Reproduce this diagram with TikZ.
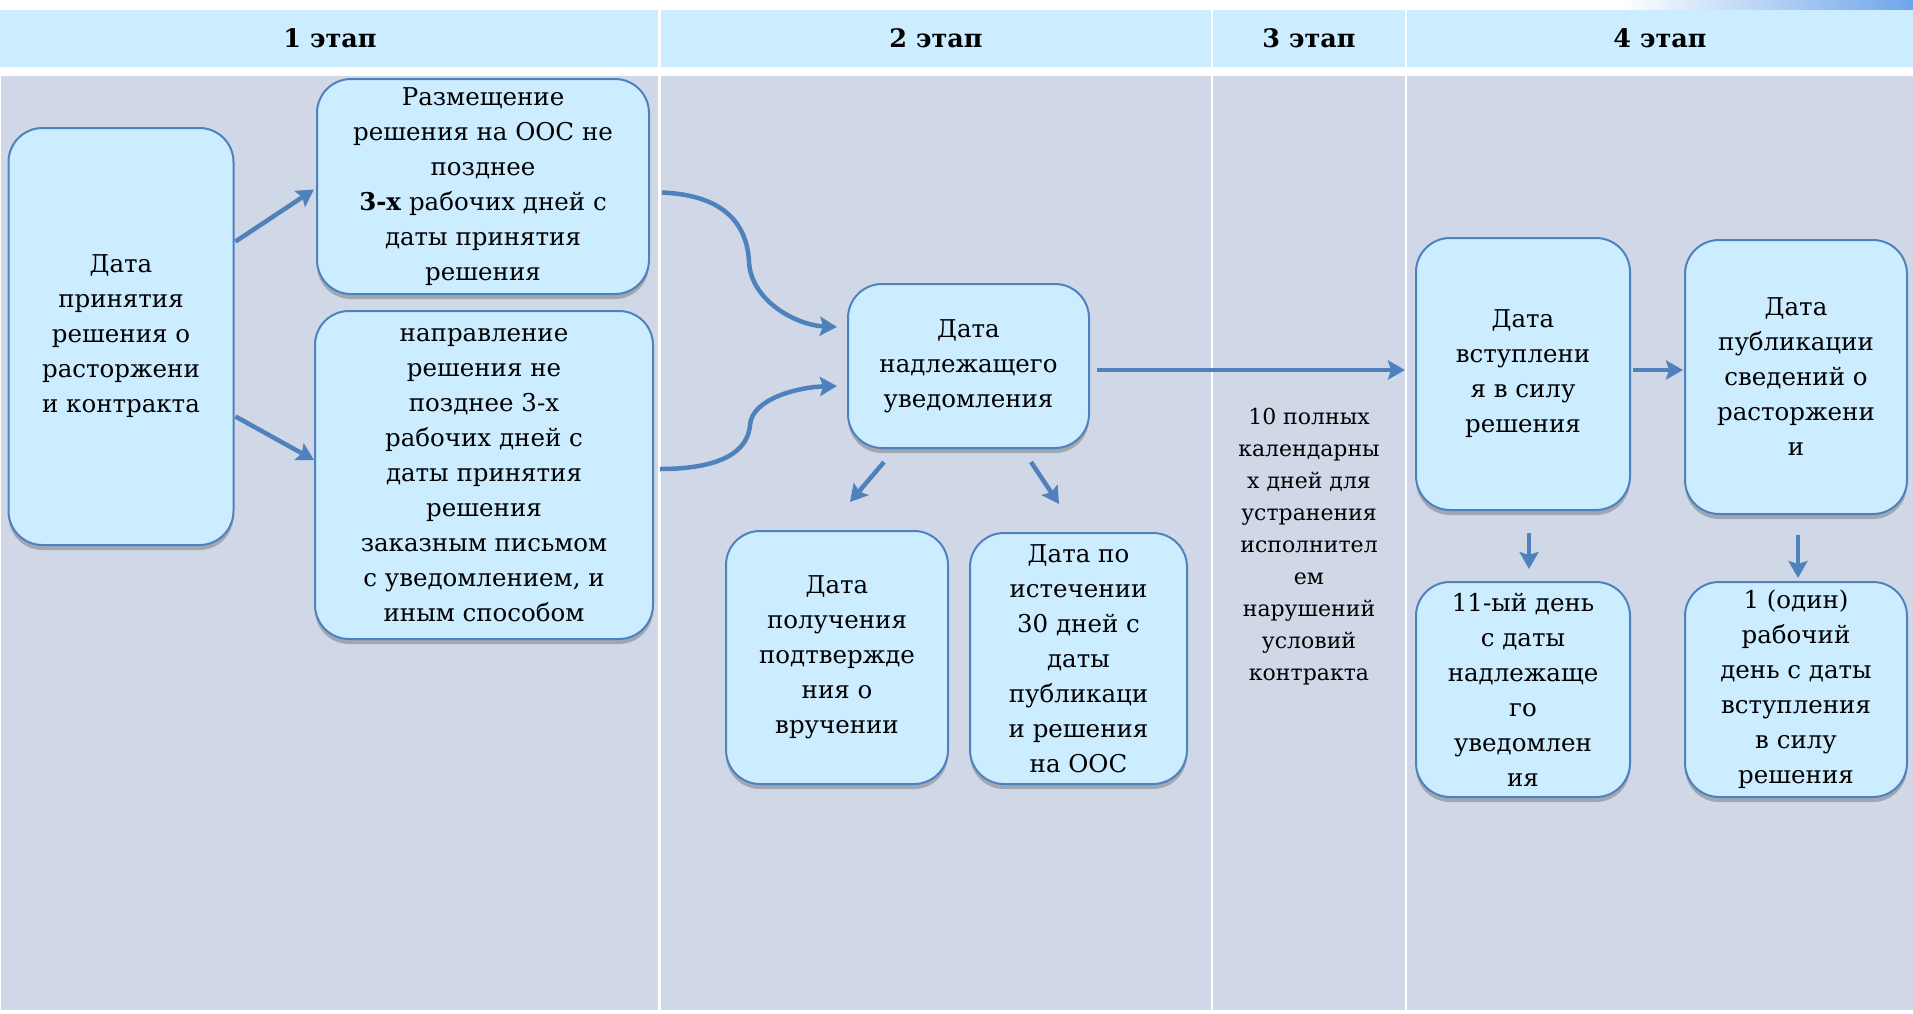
\documentclass[tikz,border=0pt]{standalone}
\usepackage{fontspec}
\setmainfont{DejaVu Serif}
\usetikzlibrary{arrows.meta,shadows,calc}
\definecolor{bodybg}{RGB}{208,216,232}
\definecolor{headbg}{RGB}{204,236,255}
\definecolor{boxfill}{RGB}{204,236,255}
\definecolor{boxline}{RGB}{79,129,189}
\definecolor{arrowc}{RGB}{79,129,189}
\definecolor{decoblue}{RGB}{110,165,235}
\begin{document}
\begin{tikzpicture}[x=1pt,y=-1pt,
  box/.style={draw=boxline, line width=2pt, fill=boxfill, rounded corners=34pt,
    align=center, inner sep=0pt, text=black, font=\fontsize{24.5}{35}\selectfont,
    drop shadow={shadow xshift=0pt, shadow yshift=-5pt, opacity=0.35, fill=black!70}},
  headtext/.style={font=\fontsize{25.5}{30}\selectfont\bfseries, text=black},
  plaintext/.style={align=center, text=black, font=\fontsize{22}{32}\selectfont},
  arr/.style={draw=arrowc, line width=4.5pt, -{Stealth[inset=3pt,length=17pt,width=19pt]}},
  divider/.style={draw=white, line width=2.5pt}
]
\useasboundingbox (0,0) rectangle (1913,1013);
\fill[white] (0,0) rectangle (1913,1013);
% top-right decoration
\shade[left color=white, right color=decoblue] (1620,0) rectangle (1913,9);
% header and body bands
\fill[headbg] (0,10) rectangle (1913,67);
\fill[bodybg] (1,76) rectangle (1913,1010);
% column dividers
\draw[divider] (659.5,10) -- (659.5,1013);
\draw[divider] (1212,10) -- (1212,1013);
\draw[divider] (1406,10) -- (1406,1013);

% header labels
\node[headtext] (h1) at (330,38) {1 этап};
\node[headtext] (h2) at (936,38) {2 этап};
\node[headtext] (h3) at (1309,38) {3 этап};
\node[headtext] (h4) at (1660,38) {4 этап};

% boxes
\node[box, minimum width=225pt, minimum height=417pt] (A) at (121,336.5)
  {Дата\\принятия\\решения о\\расторжени\\и контракта};
\node[box, minimum width=332pt, minimum height=215pt] (B) at (483,186.5)
  {Размещение\\решения на ООС не\\позднее\\\textbf{3-х} рабочих дней с\\даты принятия\\решения};
\node[box, minimum width=338pt, minimum height=328pt] (C) at (484,475)
  {направление\\решения не\\позднее 3-х\\рабочих дней с\\даты принятия\\решения\\заказным письмом\\с уведомлением, и\\иным способом};
\node[box, minimum width=241pt, minimum height=164pt] (D) at (968.5,366)
  {Дата\\надлежащего\\уведомления};
\node[box, minimum width=222pt, minimum height=253pt] (E) at (837,657.5)
  {Дата\\получения\\подтвержде\\ния о\\вручении};
\node[box, minimum width=217pt, minimum height=251pt] (F) at (1078.5,658.5)
  {Дата по\\истечении\\30 дней с\\даты\\публикаци\\и решения\\на ООС};
\node[box, minimum width=214pt, minimum height=272pt] (G) at (1523,374)
  {Дата\\вступлени\\я в силу\\решения};
\node[box, minimum width=222pt, minimum height=274pt] (H) at (1796,377)
  {Дата\\публикации\\сведений о\\расторжени\\и};
\node[box, minimum width=214pt, minimum height=215pt] (I) at (1523,689.5)
  {11-ый день\\с даты\\надлежаще\\го\\уведомлен\\ия};
\node[box, minimum width=222pt, minimum height=215pt] (J) at (1796,689.5)
  {1 (один)\\рабочий\\день с даты\\вступления\\в силу\\решения};
\node[plaintext] (T) at (1309,547)
  {10 полных\\календарны\\х дней для\\устранения\\исполнител\\ем\\нарушений\\условий\\контракта};

% connectors
\draw[arr] ([shift={(1,-95)}]A.east) -- ([shift={(-2,3)}]B.west);
\draw[arr] ([shift={(1,80)}]A.east) -- ([shift={(0,-15)}]C.west);
\draw[arr] ([shift={(12,6)}]B.east) .. controls (722,195) and (747,222) .. (749,262)
  .. controls (751,300) and (795,325) .. ([shift={(-10,-39)}]D.west);
\draw[arr] ([shift={(6,-6)}]C.east) .. controls (720,469) and (748,452) .. (750,425)
  .. controls (752,398) and (800,387) .. ([shift={(-10,20)}]D.west);
\draw[arr] ([shift={(7,4)}]D.east) -- ([shift={(-10,-4)}]G.west);
\draw[arr] ([shift={(2,-4)}]G.east) -- ([shift={(-1,-7)}]H.west);
\draw[arr] ([shift={(-84.5,13)}]D.south) -- ([shift={(13,-28)}]E.north);
\draw[arr] ([shift={(62.5,13)}]D.south) -- ([shift={(-19.5,-28)}]F.north);
\draw[arr] ([shift={(6,22)}]G.south) -- ([shift={(6,-12)}]I.north);
\draw[arr] ([shift={(2,20)}]H.south) -- ([shift={(2,-3)}]J.north);
\end{tikzpicture}
\end{document}
